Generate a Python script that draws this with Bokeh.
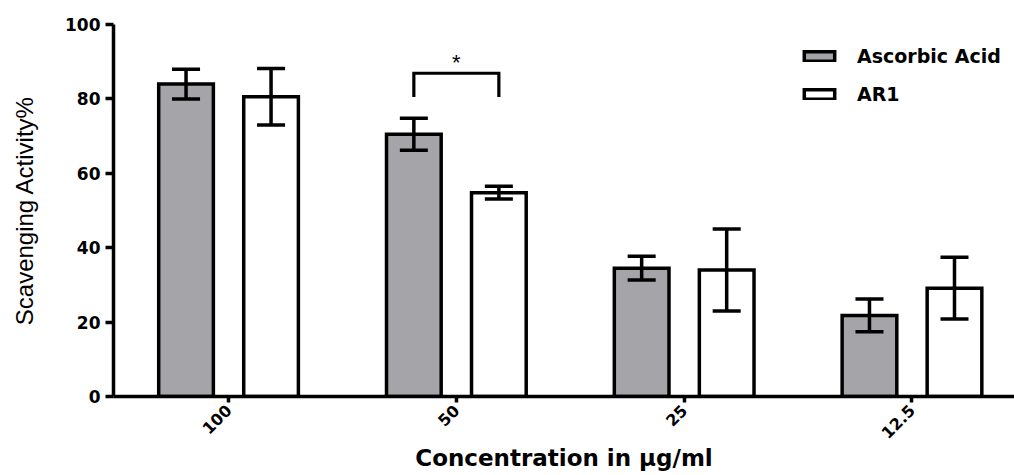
import math
from bokeh.plotting import figure
from bokeh.models import Range1d, FixedTicker, Legend, LegendItem, ColumnDataSource, Label
from bokeh.embed import file_html
from bokeh.resources import INLINE

# ---- data ----
concentrations = ["100", "50", "25", "12.5"]
series_names = ["Ascorbic Acid", "AR1"]
ascorbic_mean = [84.0, 70.5, 34.5, 21.8]
ascorbic_err = [4.0, 4.3, 3.2, 4.4]
ar1_mean = [80.6, 54.8, 34.0, 29.1]
ar1_err = [7.6, 1.7, 11.0, 8.3]
y_ticks = [0, 20, 40, 60, 80, 100]
sig_pair_group = 1          # "50" group
sig_label = "*"
sig_bracket_top = 86.9
sig_bracket_bottom = 80.5
x_title = "Concentration in \u03bcg/ml"
y_title = "Scavenging Activity%"

# ---- layout / style ----
OFF = 0.1866
BAR_W = 0.24
CAP_W = 0.123
GRAY = "#a5a5a9"
BOLD_FONT = "DejaVu Sans"

p = figure(width=1014, height=475, output_backend="svg", toolbar_location=None,
           x_range=Range1d(-0.505, 3.45), y_range=Range1d(0, 100),
           min_border_left=113, min_border_right=0, min_border_top=24, min_border_bottom=79)
p.outline_line_color = None
p.xgrid.grid_line_color = None
p.ygrid.grid_line_color = None

xs = list(range(len(concentrations)))
x_a = [x - OFF for x in xs]
x_b = [x + OFF for x in xs]

src_a = ColumnDataSource(dict(x=x_a, top=ascorbic_mean,
                              lo=[m - e for m, e in zip(ascorbic_mean, ascorbic_err)],
                              hi=[m + e for m, e in zip(ascorbic_mean, ascorbic_err)],
                              cl=[x - CAP_W / 2 for x in x_a], cr=[x + CAP_W / 2 for x in x_a]))
src_b = ColumnDataSource(dict(x=x_b, top=ar1_mean,
                              lo=[m - e for m, e in zip(ar1_mean, ar1_err)],
                              hi=[m + e for m, e in zip(ar1_mean, ar1_err)],
                              cl=[x - CAP_W / 2 for x in x_b], cr=[x + CAP_W / 2 for x in x_b]))

ra = p.vbar(x="x", top="top", bottom=0, width=BAR_W, source=src_a,
            fill_color=GRAY, line_color="black", line_width=3.5, line_join="miter")
rb = p.vbar(x="x", top="top", bottom=0, width=BAR_W, source=src_b,
            fill_color="white", line_color="black", line_width=3.5, line_join="miter")

for src in (src_a, src_b):
    p.segment(x0="x", y0="lo", x1="x", y1="hi", source=src, line_color="black", line_width=3.5)
    p.segment(x0="cl", y0="hi", x1="cr", y1="hi", source=src, line_color="black", line_width=3.5)
    p.segment(x0="cl", y0="lo", x1="cr", y1="lo", source=src, line_color="black", line_width=3.5)

# significance bracket
gx0 = x_a[sig_pair_group]
gx1 = x_b[sig_pair_group]
p.line(x=[gx0, gx0, gx1, gx1],
       y=[sig_bracket_bottom, sig_bracket_top, sig_bracket_top, sig_bracket_bottom],
       line_color="black", line_width=3.2, line_join="miter")
p.add_layout(Label(x=(gx0 + gx1) / 2, y=sig_bracket_top, text=sig_label, text_align="center",
                   text_baseline="bottom", y_offset=-2, text_font="Liberation Sans",
                   text_font_size="22px", text_color="black"))

# axes
for ax in (p.xaxis[0], p.yaxis[0]):
    ax.axis_line_width = 3.5
    ax.axis_line_color = "black"
    ax.major_tick_line_width = 3.5
    ax.major_tick_line_color = "black"
    ax.minor_tick_line_color = None
    ax.major_tick_in = 0
    ax.major_label_text_font = BOLD_FONT
    ax.major_label_text_font_style = "bold"
    ax.major_label_text_color = "black"

p.yaxis.ticker = FixedTicker(ticks=y_ticks)
p.yaxis.major_label_text_font_size = "17px"
p.yaxis.major_tick_out = 8
p.yaxis.major_label_standoff = 5
p.yaxis.axis_label = y_title
p.yaxis.axis_label_text_font = "Liberation Sans"
p.yaxis.axis_label_text_font_style = "normal"
p.yaxis.axis_label_text_font_size = "24px"
p.yaxis.axis_label_text_color = "black"
p.yaxis.axis_label_standoff = 24

p.xaxis.ticker = FixedTicker(ticks=xs)
p.xaxis.major_label_overrides = {i: c for i, c in enumerate(concentrations)}
p.xaxis.major_label_orientation = math.pi / 4
p.xaxis.major_label_text_font_size = "16px"
p.xaxis.major_tick_out = 6
p.xaxis.major_label_standoff = 5
p.xaxis.axis_label = x_title
p.xaxis.axis_label_text_font = BOLD_FONT
p.xaxis.axis_label_text_font_style = "bold"
p.xaxis.axis_label_text_font_size = "23px"
p.xaxis.axis_label_text_color = "black"
p.xaxis.axis_label_standoff = -2

legend = Legend(items=[LegendItem(label=series_names[0], renderers=[ra]),
                       LegendItem(label=series_names[1], renderers=[rb])],
                location=(687, 291), orientation="vertical",
                glyph_width=38, glyph_height=12, label_height=20, spacing=16,
                label_standoff=19, padding=0, margin=0,
                border_line_color=None, background_fill_alpha=0,
                label_text_font=BOLD_FONT, label_text_font_style="bold",
                label_text_font_size="19px", label_text_color="black")
p.add_layout(legend)

open("out.html", "w").write(file_html(p, INLINE))
